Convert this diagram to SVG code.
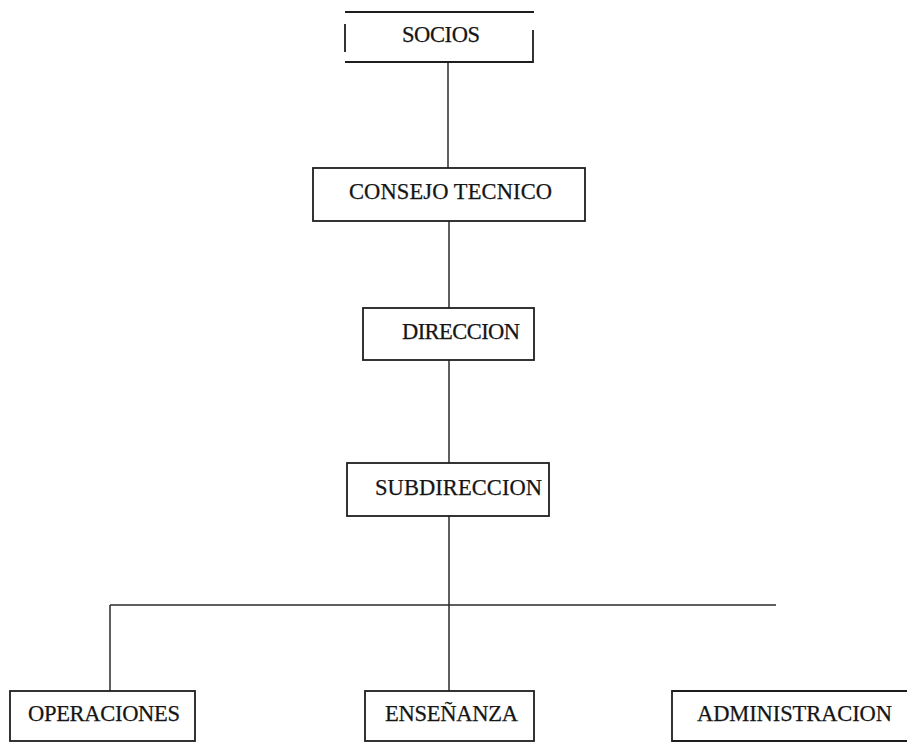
<svg xmlns="http://www.w3.org/2000/svg" width="907" height="742" viewBox="0 0 907 742">
<style>
.box{fill:none;stroke:#1e1e1e;stroke-width:1.8}
.ln{fill:none;stroke:#2a2a2a;stroke-width:1.5}
text{font-family:"Liberation Serif","Times New Roman",serif;font-size:22.5px;fill:#151515;stroke:#151515;stroke-width:0.25}
</style>
<rect width="907" height="742" fill="#fff"/>
<g id="connectors">
<line class="ln" x1="448" y1="62" x2="448" y2="168"/>
<line class="ln" x1="449" y1="221" x2="449" y2="308"/>
<line class="ln" x1="449" y1="360" x2="449" y2="463"/>
<line class="ln" x1="449" y1="516" x2="449" y2="691"/>
<line class="ln" x1="110" y1="605" x2="776" y2="605"/>
<line class="ln" x1="110" y1="605" x2="110" y2="691"/>
</g>
<g id="socios">
<path class="box" d="M345 12 H534 M533 30 V62 H345 M345 24 V52"/>
<text x="402" y="42" textLength="78" lengthAdjust="spacing">SOCIOS</text>
</g>
<g id="consejo">
<rect class="box" x="313" y="168" width="272" height="53"/>
<text x="349" y="199" textLength="203" lengthAdjust="spacing">CONSEJO TECNICO</text>
</g>
<g id="direccion">
<rect class="box" x="363" y="308" width="171" height="52"/>
<text x="402" y="339" textLength="118" lengthAdjust="spacing">DIRECCION</text>
</g>
<g id="subdireccion">
<rect class="box" x="347" y="463" width="202" height="53"/>
<text x="375" y="495" textLength="167" lengthAdjust="spacing">SUBDIRECCION</text>
</g>
<g id="operaciones">
<rect class="box" x="10" y="691" width="185" height="50"/>
<text x="28" y="721" textLength="152" lengthAdjust="spacing">OPERACIONES</text>
</g>
<g id="ensenanza">
<rect class="box" x="365" y="691" width="169" height="50"/>
<text x="385" y="721" textLength="133" lengthAdjust="spacing">ENSEÑANZA</text>
</g>
<g id="administracion">
<path class="box" d="M912 691 H672 V741 H912"/>
<text x="697" y="721" textLength="195" lengthAdjust="spacing">ADMINISTRACION</text>
</g>
</svg>
